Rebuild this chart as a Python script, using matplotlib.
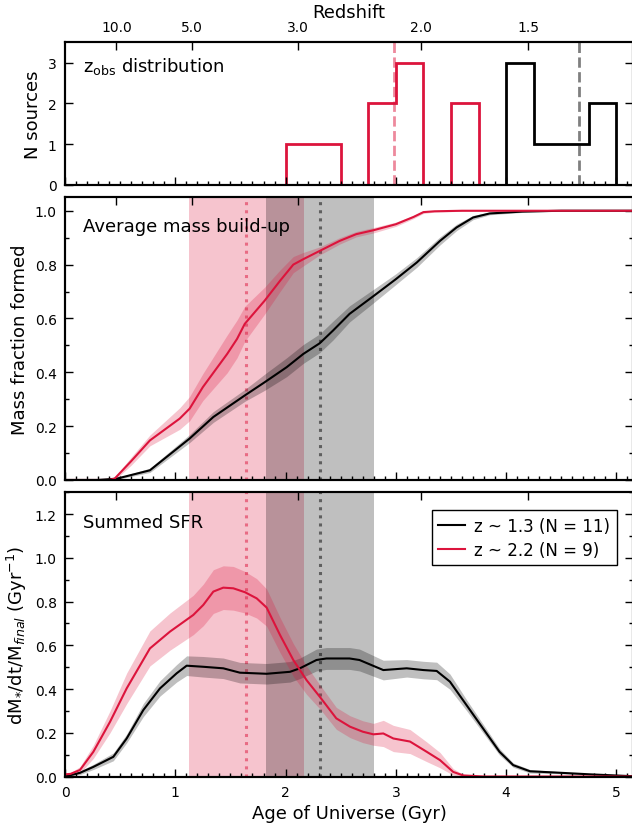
import numpy as np
import matplotlib
matplotlib.use("Agg")
import matplotlib.pyplot as plt
from matplotlib.ticker import MultipleLocator, NullLocator

# ---------------- data ----------------
# redshift tick labels for the top axis
z_ticks = [10.0, 5.0, 3.0, 2.0, 1.5]
z_tick_labels = ["10.0", "5.0", "3.0", "2.0", "1.5"]

# histogram of observed ages (Gyr), bins of 0.25 Gyr
hist_edges_red = [2.0, 2.25, 2.5, 2.75, 3.0, 3.25, 3.5, 3.75]
hist_counts_red = [1, 1, 0, 2, 3, 0, 2]
hist_edges_black = [4.0, 4.25, 4.5, 4.75, 5.0]
hist_counts_black = [3, 1, 1, 2]
zobs_median_red = 2.98
zobs_median_black = 4.66

# formation-time bands and medians (Gyr)
t50_red, t50_red_lo, t50_red_hi = 1.64, 1.12, 2.17
t50_black, t50_black_lo, t50_black_hi = 2.31, 1.82, 2.80

# mass fraction formed
mf_age_red = [0, 0.40, 0.45, 0.60, 0.77, 1.04, 1.13, 1.25, 1.47, 1.56, 1.63, 1.81, 1.95,
              2.07, 2.16, 2.31, 2.49, 2.64, 2.80, 3.00, 3.16, 3.25, 3.35, 3.60, 4.00, 5.20]
mf_red = [0, 0.0, 0.005, 0.07, 0.147, 0.228, 0.265, 0.345, 0.468, 0.524, 0.58, 0.666, 0.74,
          0.80, 0.82, 0.851, 0.888, 0.913, 0.928, 0.95, 0.977, 0.995, 0.998, 1.0, 1.0, 1.0]
mf_red_err = [0, 0, 0.005, 0.015, 0.02, 0.04, 0.045, 0.05, 0.07, 0.07, 0.065, 0.05, 0.04,
              0.03, 0.025, 0.015, 0.012, 0.01, 0.01, 0.008, 0.006, 0.005, 0.003, 0.002, 0.001, 0.001]

mf_age_black = [0, 0.30, 0.47, 0.77, 1.13, 1.345, 1.63, 1.81, 2.01, 2.16, 2.31, 2.43, 2.58,
                2.80, 3.00, 3.19, 3.40, 3.55, 3.70, 3.85, 4.15, 4.50, 5.20]
mf_black = [0, 0.0, 0.005, 0.036, 0.154, 0.234, 0.314, 0.363, 0.419, 0.468, 0.508, 0.555, 0.617,
            0.684, 0.746, 0.808, 0.888, 0.938, 0.975, 0.99, 0.997, 1.0, 1.0]
mf_black_err = [0, 0, 0.003, 0.008, 0.015, 0.02, 0.022, 0.03, 0.035, 0.035, 0.035, 0.035, 0.03,
                0.025, 0.02, 0.018, 0.015, 0.012, 0.008, 0.005, 0.003, 0.001, 0.001]

# summed SFR
sfr_age_red = [0, 0.05, 0.136, 0.257, 0.408, 0.559, 0.77, 0.952, 1.163, 1.254, 1.345, 1.435,
               1.526, 1.632, 1.738, 1.828, 1.95, 2.07, 2.19, 2.31, 2.46, 2.584, 2.70, 2.796,
               2.886, 2.977, 3.128, 3.28, 3.40, 3.52, 3.61, 3.80, 5.20]
sfr_red = [0.01, 0.012, 0.03, 0.113, 0.25, 0.403, 0.586, 0.663, 0.739, 0.785, 0.846, 0.864,
           0.861, 0.843, 0.815, 0.773, 0.647, 0.533, 0.441, 0.365, 0.266, 0.228, 0.205, 0.193,
           0.197, 0.174, 0.16, 0.113, 0.075, 0.021, 0.005, 0.0, 0.0]
sfr_red_err = [0.005, 0.006, 0.015, 0.03, 0.05, 0.07, 0.08, 0.085, 0.09, 0.095, 0.1, 0.1,
               0.1, 0.095, 0.09, 0.085, 0.08, 0.075, 0.065, 0.055, 0.05, 0.05, 0.05, 0.05,
               0.06, 0.06, 0.055, 0.045, 0.035, 0.015, 0.005, 0.001, 0.0]

sfr_age_black = [0, 0.136, 0.257, 0.438, 0.559, 0.71, 0.861, 1.012, 1.103, 1.254, 1.435, 1.586,
                 1.828, 2.04, 2.13, 2.28, 2.37, 2.58, 2.67, 2.886, 3.098, 3.25, 3.37, 3.49,
                 3.64, 3.79, 3.94, 4.064, 4.216, 4.457, 4.76, 5.12, 5.20]
sfr_black = [0.0, 0.017, 0.044, 0.09, 0.174, 0.304, 0.403, 0.472, 0.507, 0.502, 0.495, 0.475,
             0.47, 0.479, 0.495, 0.533, 0.54, 0.54, 0.533, 0.487, 0.495, 0.487, 0.483, 0.434,
             0.327, 0.22, 0.113, 0.052, 0.024, 0.018, 0.01, 0.002, 0.002]
sfr_black_err = [0.003, 0.008, 0.012, 0.018, 0.02, 0.03, 0.035, 0.04, 0.045, 0.047, 0.047, 0.047,
                 0.047, 0.047, 0.047, 0.05, 0.05, 0.05, 0.05, 0.045, 0.04, 0.04, 0.04, 0.035,
                 0.025, 0.02, 0.015, 0.01, 0.008, 0.005, 0.003, 0.002, 0.002]

labels = ["z ~ 1.3 (N = 11)", "z ~ 2.2 (N = 9)"]

# ---------------- helpers ----------------
RED = "crimson"


def age_of_universe(z, H0=70.0, Om=0.3):
    OL = 1.0 - Om
    tH = 977.8 / H0
    return 2.0 / (3.0 * np.sqrt(OL)) * tH * np.arcsinh(np.sqrt(OL / Om) * (1.0 + np.asarray(z)) ** -1.5)


XMAX = 5.15
fig = plt.figure(figsize=(6.32, 8.29), dpi=100)
L = 65 / 632
W = 568 / 632
ax1 = fig.add_axes([L, 0.776, W, 0.1718])
ax2 = fig.add_axes([L, 0.4198, W, 0.341])
ax3 = fig.add_axes([L, 0.0621, W, 0.3428])

for ax in (ax1, ax2, ax3):
    ax.set_xlim(0, XMAX)
    for s in ax.spines.values():
        s.set_linewidth(1.5)
    ax.xaxis.set_major_locator(MultipleLocator(1))
    ax.xaxis.set_minor_locator(MultipleLocator(0.1))
    ax.tick_params(which="both", direction="in", right=True, top=False, width=1,
                   labelsize=10, pad=6)
    ax.tick_params(which="major", length=5.5)
    ax.tick_params(which="minor", length=3)
    tw = ax.twiny()
    tw.set_xlim(0, XMAX)
    tw.set_xticks(age_of_universe(z_ticks))
    tw.set_xticklabels(z_tick_labels if ax is ax1 else [])
    tw.xaxis.set_minor_locator(NullLocator())
    tw.tick_params(which="major", direction="in", length=5.5, width=1, labelsize=10, pad=6)
    for s in tw.spines.values():
        s.set_linewidth(1.5)
    if ax is ax1:
        tw.set_xlabel("Redshift", fontsize=13, labelpad=2)

# ---- top panel ----
ax1.stairs(hist_counts_red, hist_edges_red, color=RED, lw=2)
ax1.stairs(hist_counts_black, hist_edges_black, color="k", lw=2)
ax1.axvline(zobs_median_red, color=RED, alpha=0.5, ls="--", lw=2)
ax1.axvline(zobs_median_black, color="k", alpha=0.5, ls="--", lw=2)
ax1.set_ylim(0, 3.5)
ax1.yaxis.set_major_locator(MultipleLocator(1))
ax1.yaxis.set_minor_locator(NullLocator())
ax1.set_ylabel("N sources", fontsize=13)
ax1.tick_params(labelbottom=False)
ax1.text(0.031, 0.834, r"z$_{\mathrm{obs}}$ distribution", transform=ax1.transAxes,
         fontsize=13, va="center", ha="left")

# ---- band + median markers on lower panels ----
for ax in (ax2, ax3):
    ax.axvspan(t50_red_lo, t50_red_hi, color=RED, alpha=0.25, lw=0, zorder=0)
    ax.axvspan(t50_black_lo, t50_black_hi, color="k", alpha=0.25, lw=0, zorder=0)
    ax.axvline(t50_red, color=RED, alpha=0.5, ls=":", lw=2.2, zorder=1)
    ax.axvline(t50_black, color="k", alpha=0.5, ls=":", lw=2.2, zorder=1)
    ax.yaxis.set_major_locator(MultipleLocator(0.2))
    ax.yaxis.set_minor_locator(MultipleLocator(0.1))

# ---- middle panel ----
for x, y, e, c in ((mf_age_black, mf_black, mf_black_err, "k"),
                   (mf_age_red, mf_red, mf_red_err, RED)):
    x = np.asarray(x); y = np.asarray(y); e = np.asarray(e)
    ax2.fill_between(x, y - e, y + e, color=c, alpha=0.25, lw=0, zorder=2)
    ax2.plot(x, y, color=c, lw=1.5, zorder=3)
ax2.set_ylim(0, 1.05)
ax2.set_ylabel("Mass fraction formed", fontsize=13)
ax2.tick_params(labelbottom=False)
ax2.text(0.031, 0.899, "Average mass build-up", transform=ax2.transAxes,
         fontsize=13, va="center", ha="left")

# ---- bottom panel ----
handles = []
for x, y, e, c, lab in ((sfr_age_black, sfr_black, sfr_black_err, "k", labels[0]),
                        (sfr_age_red, sfr_red, sfr_red_err, RED, labels[1])):
    x = np.asarray(x); y = np.asarray(y); e = np.asarray(e)
    ax3.fill_between(x, np.clip(y - e, 0, None), y + e, color=c, alpha=0.25, lw=0, zorder=2)
    h, = ax3.plot(x, y, color=c, lw=1.5, zorder=3, label=lab)
    handles.append(h)
ax3.set_ylim(0, 1.3)
ax3.set_ylabel(r"dM$_{*}$/dt/M$_{final}$ (Gyr$^{-1}$)", fontsize=13)
ax3.set_xlabel("Age of Universe (Gyr)", fontsize=13)
ax3.text(0.031, 0.897, "Summed SFR", transform=ax3.transAxes,
         fontsize=13, va="center", ha="left")
leg = ax3.legend(handles=handles, loc="upper right", bbox_to_anchor=(0.9718, 0.9368),
                 borderaxespad=0, fontsize=12, fancybox=False, edgecolor="k",
                 framealpha=1, handlelength=1.6, handletextpad=0.55, labelspacing=0.35)
leg.get_frame().set_linewidth(1.0)

fig.savefig("out.png", dpi=100)
